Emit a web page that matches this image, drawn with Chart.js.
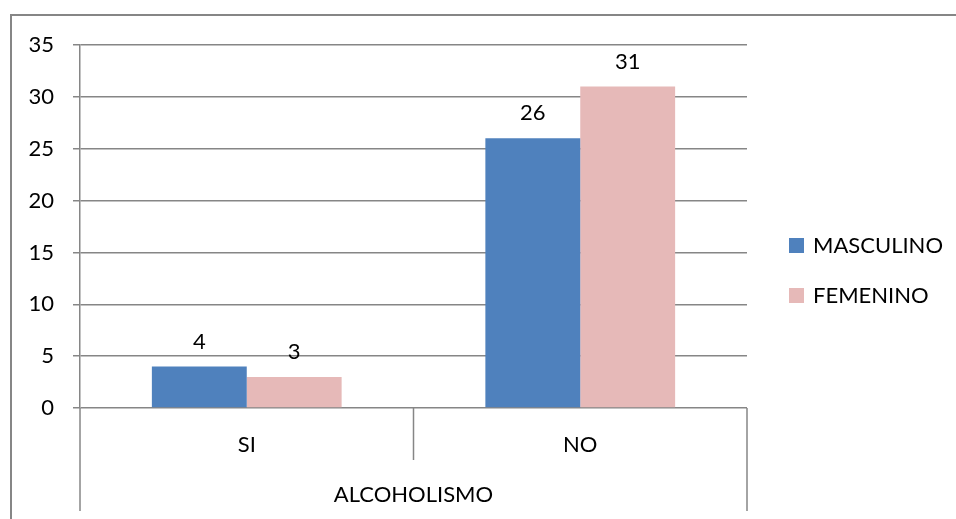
<!DOCTYPE html>
<html>
<head>
<meta charset="utf-8">
<script src="https://cdn.jsdelivr.net/npm/chart.js@4.4.1/dist/chart.umd.min.js"></script>
<style>
  html, body { margin: 0; padding: 0; background: #fff; }
  #wrap { width: 956px; height: 519px; position: relative; }
</style>
</head>
<body>
<div id="wrap"><canvas id="chart"></canvas></div>
<script>
// Consumo de alcohol por sexo
const categories = ['SI', 'NO'];
const groupTitle = 'ALCOHOLISMO';
const masculino = [4, 26];
const femenino = [3, 31];
const yMax = 35;
const yStep = 5;

const FONT = 'Lato, "Open Sans", sans-serif';
const LINE = '#868686';

// Marco exterior del gráfico
const framePlugin = {
    id: 'frame',
    beforeDraw(chart) {
        const ctx = chart.ctx;
        ctx.save();
        ctx.strokeStyle = LINE;
        ctx.lineWidth = 2;
        ctx.beginPath();
        ctx.moveTo(11, chart.height);
        ctx.lineTo(11, 15);
        ctx.lineTo(chart.width, 15);
        ctx.stroke();
        ctx.restore();
    }
};

// Eje de categorías de dos niveles (SI / NO bajo ALCOHOLISMO)
const groupAxisPlugin = {
    id: 'groupAxis',
    afterDraw(chart) {
        const ctx = chart.ctx;
        const x = chart.scales.x;
        const area = chart.chartArea;
        const mid = (x.left + x.right) / 2;
        ctx.save();
        ctx.strokeStyle = LINE;
        ctx.lineWidth = 1.5;
        ctx.beginPath();
        ctx.moveTo(area.left, area.bottom);
        ctx.lineTo(area.left, area.bottom + 103);
        ctx.moveTo(area.right, area.bottom);
        ctx.lineTo(area.right, area.bottom + 103);
        ctx.moveTo(mid, area.bottom);
        ctx.lineTo(mid, area.bottom + 52);
        ctx.stroke();
        ctx.fillStyle = '#000';
        ctx.font = '22px ' + FONT;
        ctx.textAlign = 'center';
        ctx.textBaseline = 'middle';
        ctx.fillText(groupTitle, mid, area.bottom + 87);
        ctx.restore();
    }
};

// Etiquetas de valor sobre cada barra
const valueLabelPlugin = {
    id: 'valueLabels',
    afterDatasetsDraw(chart) {
        const ctx = chart.ctx;
        ctx.save();
        ctx.fillStyle = '#000';
        ctx.font = '22px ' + FONT;
        ctx.textAlign = 'center';
        ctx.textBaseline = 'middle';
        chart.data.datasets.forEach((ds, i) => {
            chart.getDatasetMeta(i).data.forEach((bar, j) => {
                ctx.fillText(String(ds.data[j]), bar.x, bar.y - 25);
            });
        });
        ctx.restore();
    }
};

// Leyenda a la derecha
const legendPlugin = {
    id: 'sideLegend',
    afterDraw(chart) {
        const ctx = chart.ctx;
        const area = chart.chartArea;
        ctx.save();
        ctx.font = '22px ' + FONT;
        ctx.textBaseline = 'middle';
        ctx.textAlign = 'left';
        chart.data.datasets.forEach((ds, i) => {
            const y = 238 + i * 50;
            ctx.fillStyle = ds.backgroundColor;
            ctx.fillRect(area.right + 42, y, 15, 15);
            ctx.fillStyle = '#000';
            ctx.fillText(ds.label, area.right + 66, y + 8);
        });
        ctx.restore();
    }
};

new Chart(document.getElementById('chart'), {
    type: 'bar',
    data: {
        labels: categories,
        datasets: [
            { label: 'MASCULINO', data: masculino, backgroundColor: '#4f81bd' },
            { label: 'FEMENINO', data: femenino, backgroundColor: '#e6b9b8' }
        ]
    },
    options: {
        responsive: true,
        maintainAspectRatio: false,
        animation: false,
        devicePixelRatio: 1,
        layout: { padding: { top: 45, right: 209, left: 0, bottom: 0 } },
        datasets: { bar: { categoryPercentage: 0.569, barPercentage: 1 } },
        plugins: { legend: { display: false }, tooltip: { enabled: false } },
        scales: {
            x: {
                offset: true,
                grid: { display: false, drawTicks: false },
                border: { display: false },
                ticks: { color: '#000', font: { family: FONT, size: 22 }, padding: 24 },
                afterFit(scale) { scale.height = 111; }
            },
            y: {
                min: 0,
                max: yMax,
                ticks: { stepSize: yStep, color: '#000', font: { family: FONT, size: 22 }, padding: 19 },
                grid: { color: LINE, lineWidth: 1.5, tickLength: 7 },
                border: { display: true, color: LINE, width: 1.5 },
                afterFit(scale) { scale.width = 80; }
            }
        }
    },
    plugins: [framePlugin, groupAxisPlugin, valueLabelPlugin, legendPlugin]
});
</script>
</body>
</html>
